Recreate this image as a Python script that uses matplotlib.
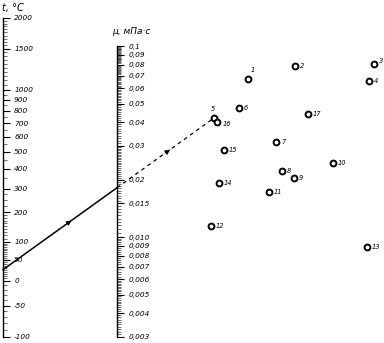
import numpy as np
import matplotlib
matplotlib.use('Agg')
import matplotlib.pyplot as plt
from matplotlib.lines import Line2D
from matplotlib.patches import FancyArrowPatch
from matplotlib.ticker import NullFormatter

# temperature scale (left), deg C
t_major = [2000, 1500, 1000, 900, 800, 700, 600, 500, 400, 300, 200, 100, 50, 0, -50, -100]
t_labels = ['2000', '1500', '1000', '900', '800', '700', '600', '500', '400', '300',
            '200', '100', '50', '0', '-50', '-100']

# viscosity scale (middle), mPa*s
mu_major = [0.1, 0.09, 0.08, 0.07, 0.06, 0.05, 0.04, 0.03, 0.02, 0.015, 0.010,
            0.009, 0.008, 0.007, 0.006, 0.005, 0.004, 0.003]
mu_labels = ['0,1', '0,09', '0,08', '0,07', '0,06', '0,05', '0,04', '0,03', '0,02',
             '0,015', '0,010', '0,009', '0,008', '0,007', '0,006', '0,005', '0,004', '0,003']

# substance points on the X-Y grid
gas_no = [1, 2, 3, 4, 5, 6, 7, 8, 9, 10, 11, 12, 13, 14, 15, 16, 17]
gas_x = [4.8, 9.5, 17.4, 16.9, 1.4, 3.9, 7.6, 8.2, 9.4, 13.3, 6.9, 1.1, 16.7, 1.9, 2.4, 1.7, 10.8]
gas_y = [26.4, 27.7, 27.9, 26.2, 22.5, 23.5, 20.1, 17.2, 16.5, 18.0, 15.1, 11.7, 9.6, 16.0, 19.3, 22.1, 22.9]

# example: gas 5 at 25 deg C
t_example = 25
gas_example = 5

W, H = 384, 343
fig = plt.figure(figsize=(W / 100, H / 100), dpi=100)


def strip(x, top, bottom):
    return [x / W, 1 - bottom / H, 1e-4, (bottom - top) / H]


def scale_axis(ax):
    for s in ['top', 'bottom', 'left']:
        ax.spines[s].set_visible(False)
    ax.spines['right'].set_linewidth(1.0)
    ax.yaxis.tick_right()
    ax.set_xticks([])
    ax.set_xlim(0, 1)
    ax.tick_params(axis='y', which='major', length=5, width=0.8, pad=3, labelsize=5.3)
    ax.tick_params(axis='y', which='minor', length=3, width=0.4)
    ax.yaxis.set_minor_formatter(NullFormatter())
    for lbl in ax.get_yticklabels():
        lbl.set_style('italic')


ax_t = fig.add_axes(strip(3, 18, 337))
ax_t.set_yscale('function', functions=(lambda t: np.log10(np.asarray(t) + 273.15),
                                       lambda v: 10 ** np.asarray(v) - 273.15))
ax_t.set_ylim(-100, 2000)
t_minor = np.concatenate([np.arange(-100, 0, 10), np.arange(0, 100, 5), np.arange(100, 200, 10),
                          np.arange(200, 300, 25), np.arange(300, 2001, 50)])
ax_t.set_yticks(t_major, t_labels)
ax_t.set_yticks(t_minor, minor=True)
scale_axis(ax_t)

ax_mu = fig.add_axes(strip(117, 46, 337))
ax_mu.set_yscale('log')
ax_mu.set_ylim(0.003, 0.1)
mu_minor = np.concatenate([np.arange(0.003, 0.006, 0.0001), np.arange(0.006, 0.01, 0.0002),
                           np.arange(0.01, 0.03, 0.0005), np.arange(0.03, 0.1001, 0.001)])
ax_mu.set_yticks(mu_major, mu_labels)
ax_mu.set_yticks(mu_minor, minor=True)
scale_axis(ax_mu)

fig.text(2 / W, 1 - 8 / H, 't, °C', fontsize=7, style='italic', va='center')
fig.text(112 / W, 1 - 32 / H, 'μ, мПа·с', fontsize=6.5, style='italic', va='center')

ax_p = fig.add_axes([200 / W, 0, 184 / W, 1])
ax_p.set_xlim(0, 18.4)
ax_p.set_ylim(0, 34.3)
ax_p.axis('off')
ax_p.set_zorder(3)
ax_p.plot(gas_x, gas_y, 'o', ms=4.2, mfc='white', mec='black', mew=1.4, ls='none')
offsets = {1: (3, 9), 3: (5, 3), 5: (-1, 9), 16: (6, -2)}
for n, x, y in zip(gas_no, gas_x, gas_y):
    dx, dy = offsets.get(n, (5, 0))
    ax_p.annotate(str(n), (x, y), xytext=(dx, dy), textcoords='offset pixels',
                  fontsize=4.8, style='italic', va='center',
                  ha='center' if n == 5 else 'left')

# nomogram line: temperature -> gas point, crossing the viscosity scale
p1 = ax_t.transData.transform((1, t_example))
i = gas_no.index(gas_example)
p2 = ax_p.transData.transform((gas_x[i], gas_y[i]))
xm = ax_mu.transAxes.transform((1, 0))[0]
pm = p1 + (p2 - p1) * (xm - p1[0]) / (p2[0] - p1[0])
to_fig = fig.transFigure.inverted()
a, m, b = to_fig.transform(p1), to_fig.transform(pm), to_fig.transform(p2)

fig.add_artist(Line2D([a[0], m[0]], [a[1], m[1]], transform=fig.transFigure,
                      color='black', lw=1.1))
fig.add_artist(Line2D([m[0], b[0]], [m[1], b[1]], transform=fig.transFigure,
                      color='black', lw=0.9, ls=(0, (3, 3))))
for s, e, f in [(a, m, 0.57), (m, b, 0.52)]:
    q0 = s + (e - s) * (f - 0.05)
    q1 = s + (e - s) * (f + 0.05)
    fig.add_artist(FancyArrowPatch(q0, q1, transform=fig.transFigure, arrowstyle='-|>',
                                   mutation_scale=8, color='black', lw=0.5))

fig.savefig('out.png', dpi=100)
